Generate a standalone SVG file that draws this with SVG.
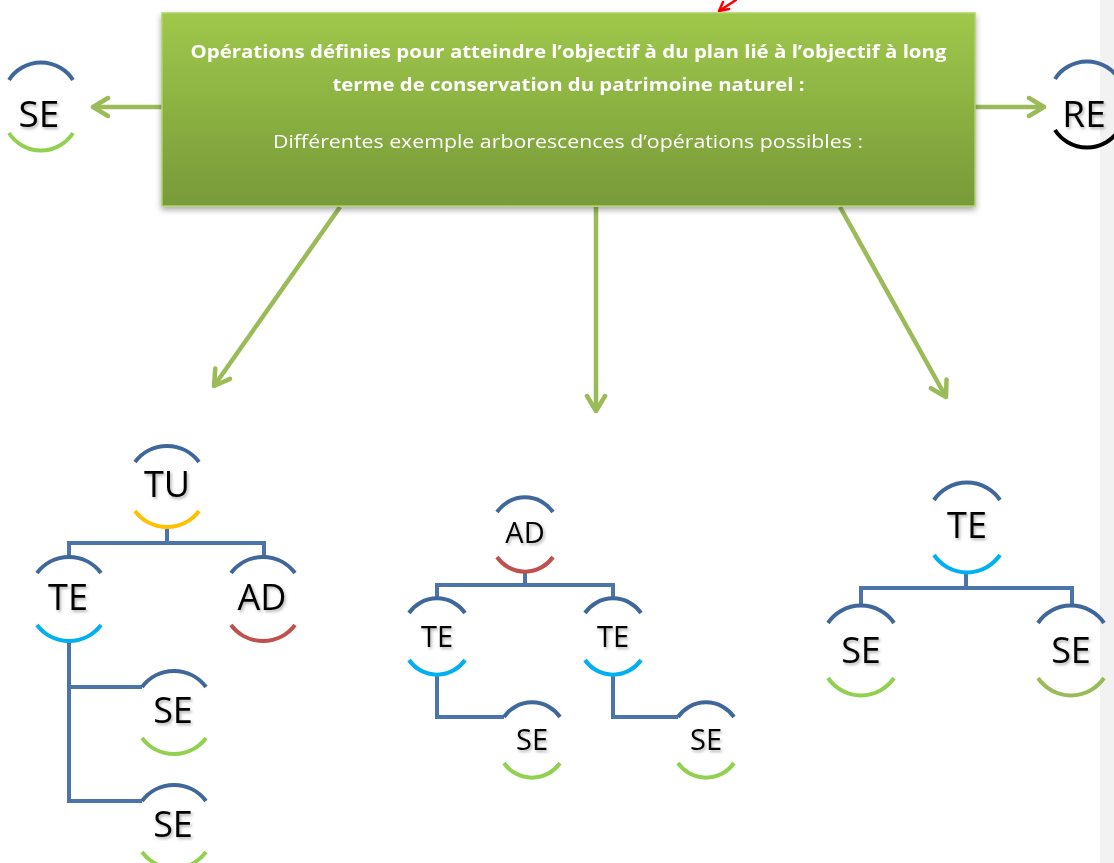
<svg xmlns="http://www.w3.org/2000/svg" width="1114" height="863" viewBox="0 0 1114 863">
<style>
.top{fill:none;stroke:#3f679b;stroke-width:4}
.cyan{fill:none;stroke:#00b0f0;stroke-width:4}
.gold{fill:none;stroke:#ffc000;stroke-width:4}
.red{fill:none;stroke:#c0504d;stroke-width:4}
.lime{fill:none;stroke:#92d050;stroke-width:4}
.olive{fill:none;stroke:#9bbb59;stroke-width:4}
.blk{fill:none;stroke:#000;stroke-width:4}
.lbl{font-family:"Open Sans","Noto Sans",sans-serif;fill:#000;text-anchor:middle;filter:url(#ts)}
.big{font-size:36px}
.mid{font-size:29px}
.conn{fill:none;stroke:#4a74aa;stroke-width:4}
.garrow{fill:none;stroke:#9bbb59;stroke-width:4.5;marker-end:url(#ah)}
.btxt{font-family:"Open Sans","Noto Sans",sans-serif;fill:#fff;text-anchor:middle}
</style>
<defs>
<linearGradient id="bg" x1="0" y1="0" x2="0" y2="1">
<stop offset="0" stop-color="#9fc84b"/>
<stop offset="1" stop-color="#789a39"/>
</linearGradient>
<filter id="sh" x="-5%" y="-10%" width="110%" height="130%">
<feDropShadow dx="0" dy="3" stdDeviation="3" flood-color="#000" flood-opacity="0.35"/>
</filter>
<filter id="ts" x="-20%" y="-20%" width="150%" height="150%">
<feDropShadow dx="1.5" dy="2" stdDeviation="1.5" flood-color="#000" flood-opacity="0.3"/>
</filter>
<marker id="ah" markerUnits="userSpaceOnUse" markerWidth="24" markerHeight="24" viewBox="0 0 24 24" refX="20" refY="12" orient="auto">
<path d="M5,3 L20,12 L5,21" fill="none" stroke="#9bbb59" stroke-width="4.5" stroke-linecap="round" stroke-linejoin="round"/>
</marker>
</defs>
<rect x="1100" y="0" width="14" height="863" fill="#f2f2f2"/>

<g id="connectors">
<line class="garrow" x1="162" y1="107" x2="93" y2="107"/>
<line class="garrow" x1="975" y1="107" x2="1044" y2="107"/>
<line class="garrow" x1="340" y1="207" x2="214" y2="386"/>
<line class="garrow" x1="596" y1="207" x2="596" y2="411"/>
<line class="garrow" x1="840" y1="207" x2="946" y2="397"/>
<path d="M736,0 L719,11 M719,11 L723,2 M719,11 L729,9" fill="none" stroke="#ff0000" stroke-width="2.5" stroke-linecap="round"/>
<path class="conn" d="M167,527 V543 M69,557 V543 H264 V557"/>
<path class="conn" d="M69,641 V801 H142 M69,687 H142"/>
<path class="conn" d="M525,572 V585 M437,598 V585 H613 V598"/>
<path class="conn" d="M437,675 V717 H504 M613,675 V717 H678"/>
<path class="conn" d="M966,572 V588 M861,606 V588 H1072 V606"/>
</g>

<g id="box" filter="url(#sh)">
<rect x="162" y="13" width="813" height="193" fill="url(#bg)" stroke="#aed268" stroke-width="1.5"/>
<text class="btxt" x="568.5" y="58" font-size="18" font-weight="bold" textLength="756" lengthAdjust="spacingAndGlyphs">Opérations définies pour atteindre l’objectif à du plan lié à l’objectif à long</text>
<text class="btxt" x="568.5" y="91" font-size="18" font-weight="bold" textLength="472" lengthAdjust="spacingAndGlyphs">terme de conservation du patrimoine naturel :</text>
<text class="btxt" x="568" y="148" font-size="19" textLength="590" lengthAdjust="spacingAndGlyphs">Différentes exemple arborescences d’opérations possibles :</text>
</g>

<g id="node-se-top">
<path class="top" d="M9,80 A38 38 0 0 1 73,80"/>
<path class="lime" d="M9,133 A38 38 0 0 0 73,133"/>
<text class="lbl" x="39" y="127" font-size="37">SE</text>
</g>
<g id="node-re-top">
<path class="top" d="M1055,79 A38 38 0 0 1 1119,79"/>
<path class="blk" d="M1055,130 A38 38 0 0 0 1119,130"/>
<text class="lbl" x="1084" y="127" font-size="37">RE</text>
</g>

<g id="node-tu">
<path class="top" d="M135,462 A40 40 0 0 1 199,462"/>
<path class="gold" d="M135,511 A40 40 0 0 0 199,511"/>
<text class="lbl big" x="167" y="497">TU</text>
</g>
<g id="node-te-l">
<path class="top" d="M37,573 A40 40 0 0 1 101,573"/>
<path class="cyan" d="M37,625 A40 40 0 0 0 101,625"/>
<text class="lbl big" x="68" y="610">TE</text>
</g>
<g id="node-ad-l">
<path class="top" d="M231,573 A40 40 0 0 1 295,573"/>
<path class="red" d="M231,625 A40 40 0 0 0 295,625"/>
<text class="lbl big" x="262" y="610">AD</text>
</g>
<g id="node-se-l1">
<path class="top" d="M142,687 A40 40 0 0 1 206,687"/>
<path class="lime" d="M142,738 A40 40 0 0 0 206,738"/>
<text class="lbl big" x="173" y="723">SE</text>
</g>
<g id="node-se-l2">
<path class="top" d="M142,801 A40 40 0 0 1 206,801"/>
<path class="lime" d="M142,852 A40 40 0 0 0 206,852"/>
<text class="lbl big" x="173" y="837">SE</text>
</g>

<g id="node-ad-m">
<path class="top" d="M497,512 A34 34 0 0 1 553,512"/>
<path class="red" d="M497,557 A34 34 0 0 0 553,557"/>
<text class="lbl mid" x="525" y="543">AD</text>
</g>
<g id="node-te-m1">
<path class="top" d="M409,613 A34 34 0 0 1 465,613"/>
<path class="cyan" d="M409,660 A34 34 0 0 0 465,660"/>
<text class="lbl mid" x="437" y="647">TE</text>
</g>
<g id="node-te-m2">
<path class="top" d="M585,613 A34 34 0 0 1 641,613"/>
<path class="cyan" d="M585,660 A34 34 0 0 0 641,660"/>
<text class="lbl mid" x="613" y="647">TE</text>
</g>
<g id="node-se-m1">
<path class="top" d="M504,717 A34 34 0 0 1 560,717"/>
<path class="lime" d="M504,763 A34 34 0 0 0 560,763"/>
<text class="lbl mid" x="532" y="750">SE</text>
</g>
<g id="node-se-m2">
<path class="top" d="M678,717 A34 34 0 0 1 734,717"/>
<path class="lime" d="M678,763 A34 34 0 0 0 734,763"/>
<text class="lbl mid" x="706" y="750">SE</text>
</g>

<g id="node-te-r">
<path class="top" d="M934,500 A40 40 0 0 1 1000,500"/>
<path class="cyan" d="M934,555 A40 40 0 0 0 1000,555"/>
<text class="lbl big" x="967" y="538">TE</text>
</g>
<g id="node-se-r1">
<path class="top" d="M828,623 A40 40 0 0 1 894,623"/>
<path class="lime" d="M828,678 A40 40 0 0 0 894,678"/>
<text class="lbl big" x="861" y="663">SE</text>
</g>
<g id="node-se-r2">
<path class="top" d="M1038,623 A40 40 0 0 1 1104,623"/>
<path class="olive" d="M1038,678 A40 40 0 0 0 1104,678"/>
<text class="lbl big" x="1071" y="663">SE</text>
</g>
</svg>
